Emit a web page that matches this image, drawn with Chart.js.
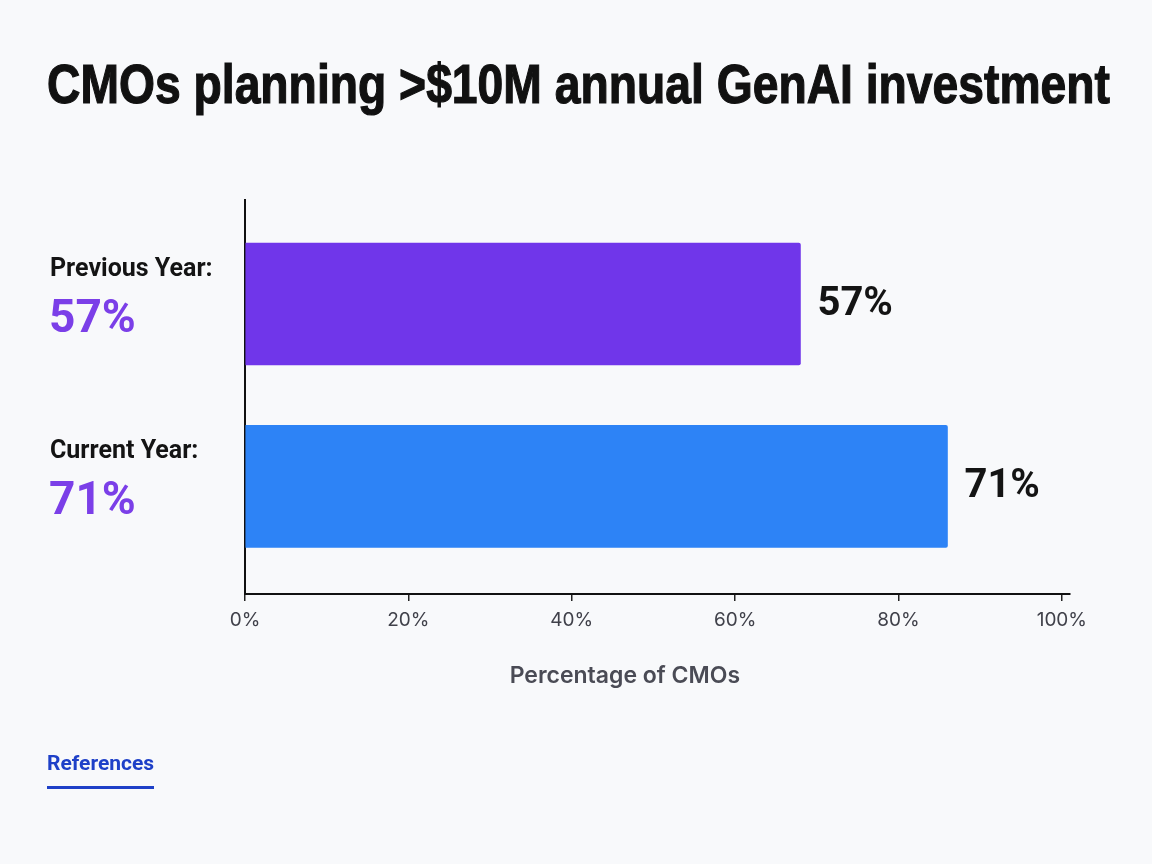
<!DOCTYPE html>
<html>
<head>
<meta charset="utf-8">
<script src="https://cdn.jsdelivr.net/npm/chart.js@4/dist/chart.umd.min.js"></script>
<style>
  html, body { margin: 0; padding: 0; background: #f8f9fb; }
  #wrap { position: relative; width: 1152px; height: 864px; }
  #refs {
    position: absolute; left: 47px; top: 751px;
    font: bold 21px Roboto, sans-serif; color: #1e40c8;
    padding-bottom: 11px; border-bottom: 3px solid #1e40c8;
  }
</style>
</head>
<body>
<div id="wrap">
  <canvas id="grafico" width="1152" height="864"></canvas>
  <div id="refs">References</div>
</div>
<script>
// datos
const titulo = "CMOs planning >$10M annual GenAI investment";
const categorias = ["Previous Year:", "Current Year:"];
const etiquetas = ["57%", "71%"];          // texto que muestra la grafica
const valoresBarra = [68, 86];
const coloresBarra = ["#7036ea", "#2d83f6"];
const tituloEje = "Percentage of CMOs";

const datos = valoresBarra.map((v, i) => ({ x: v, y: i }));

// textos: titulo, etiquetas de la izquierda y valores
const textos = {
  id: "textos",
  afterDraw(chart) {
    const ctx = chart.ctx;
    const xs = chart.scales.x, ys = chart.scales.y;
    ctx.save();

    // titulo (fuente angosta, se comprime al ancho)
    ctx.font = 'bold 55px "Liberation Sans", Arial, sans-serif';
    ctx.fillStyle = "#111111";
    ctx.strokeStyle = "#111111";
    ctx.lineWidth = 1.2;
    ctx.textBaseline = "alphabetic";
    ctx.textAlign = "left";
    const w = ctx.measureText(titulo).width;
    ctx.save();
    ctx.translate(47, 103);
    ctx.scale(1063 / w, 1);
    ctx.fillText(titulo, 0, 0);
    ctx.strokeText(titulo, 0, 0);
    ctx.restore();

    categorias.forEach((c, i) => {
      const yc = ys.getPixelForValue(i);
      ctx.textAlign = "left";
      ctx.textBaseline = "alphabetic";
      ctx.fillStyle = "#141414";
      ctx.font = "bold 25px Roboto, sans-serif";
      ctx.fillText(c, 50, yc - 28);
      ctx.fillStyle = "#7b3fe8";
      ctx.font = "bold 46px Roboto, sans-serif";
      ctx.fillText(etiquetas[i], 49, yc + 28);

      // valor al final de la barra
      ctx.fillStyle = "#141414";
      ctx.font = "bold 40px Roboto, sans-serif";
      ctx.textBaseline = "middle";
      ctx.fillText(etiquetas[i], xs.getPixelForValue(valoresBarra[i]) + 17, yc + 1);
    });

    // titulo del eje x
    ctx.font = "600 23px Inter, Roboto, sans-serif";
    ctx.fillStyle = "#4a4b55";
    ctx.textAlign = "center";
    ctx.textBaseline = "middle";
    ctx.fillText(tituloEje, xs.getPixelForValue(46.5), 676);
    ctx.restore();
  }
};

new Chart(document.getElementById("grafico"), {
  type: "bar",
  data: {
    datasets: [{
      data: datos,
      backgroundColor: coloresBarra,
      borderRadius: 2,
      borderSkipped: "start",
      barThickness: 122
    }]
  },
  options: {
    indexAxis: "y",
    responsive: false,
    animation: false,
    layout: { padding: { top: 200, right: 82, left: 0, bottom: 0 } },
    plugins: { legend: { display: false }, tooltip: { enabled: false } },
    scales: {
      x: {
        type: "linear",
        min: 0,
        max: 101,
        grid: { drawOnChartArea: false, drawTicks: true, tickLength: 7, color: "#222", lineWidth: 1.5 },
        border: { display: true, color: "#111", width: 2 },
        ticks: {
          stepSize: 20,
          includeBounds: false,
          padding: 8,
          color: "#40414a",
          font: { family: "Inter", size: 19 },
          callback: v => v + "%"
        },
        afterFit: s => { s.height = 270; }
      },
      y: {
        type: "linear",
        offset: false,
        min: -0.57,
        max: 1.59,
        reverse: true,
        grid: { display: false },
        border: { display: true, color: "#111", width: 2 },
        ticks: { display: false },
        afterFit: s => { s.width = 245; }
      }
    }
  },
  plugins: [textos]
});
</script>
</body>
</html>
